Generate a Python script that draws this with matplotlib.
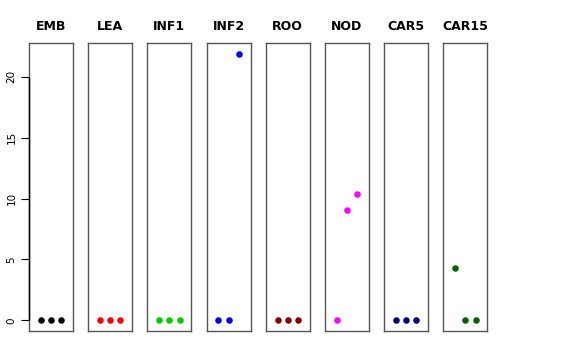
import numpy as np
import matplotlib
matplotlib.use("Agg")
import matplotlib.pyplot as plt

# tissues and their three replicate values
tissues = ['EMB', 'LEA', 'INF1', 'INF2', 'ROO', 'NOD', 'CAR5', 'CAR15']
colors = ['black', 'red', '#00CD00', 'blue', '#8B0000', 'magenta', '#000080', '#006400']
values = {
    'EMB': [0, 0, 0],
    'LEA': [0, 0, 0],
    'INF1': [0, 0, 0],
    'INF2': [0, 0, 21.9],
    'ROO': [0, 0, 0],
    'NOD': [0, 9.05, 10.37],
    'CAR5': [0, 0, 0],
    'CAR15': [4.28, 0, 0],
}
yticks = [0, 5, 10, 15, 20]

W, H = 576, 360
fig = plt.figure(figsize=(W / 100, H / 100), dpi=100)

ymax = max(max(v) for v in values.values())
pad = ymax * 0.04
left0, step, width = 29, 59.2, 44
top, bottom = 43, 331

for i, name in enumerate(tissues):
    x0 = left0 + i * step
    ax = fig.add_axes([x0 / W, (H - bottom) / H, width / W, (bottom - top) / H])
    xs = np.arange(1, 4)
    ax.plot(xs, values[name], 'o', color=colors[i], markersize=4.7, markeredgewidth=0)
    ax.set_xlim(-0.16, 4.16)
    ax.set_ylim(-pad, ymax + pad)
    ax.set_xticks([])
    ax.set_title(name, fontsize=9, fontweight='bold', pad=9)
    for s in ax.spines.values():
        s.set_linewidth(1.0)
        s.set_color('#555555')
    if i == 0:
        ax.set_yticks(yticks)
        ax.tick_params(axis='y', length=6, width=0.8, labelsize=7.5, pad=3)
        for lab in ax.get_yticklabels():
            lab.set_rotation(90)
            lab.set_va('center')
        # R-style axis line spanning first to last tick
        ax.vlines(ax.get_xlim()[0], yticks[0], yticks[-1], color='black',
                  linewidth=1.0, clip_on=False, zorder=5)
    else:
        ax.set_yticks([])

fig.savefig('out.png', dpi=100)
